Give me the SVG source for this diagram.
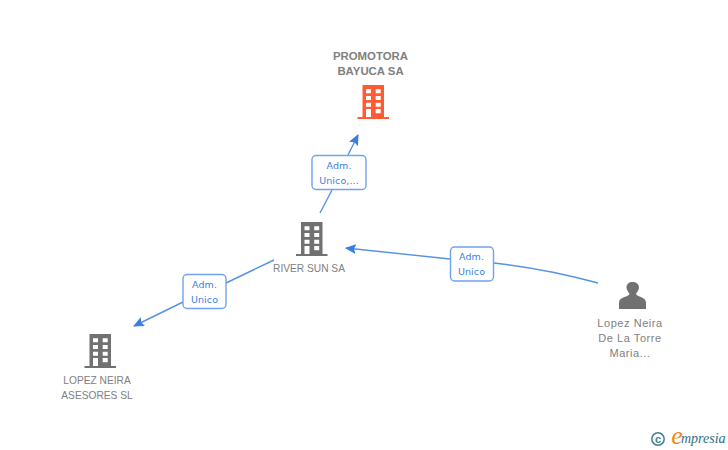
<svg xmlns="http://www.w3.org/2000/svg" width="728" height="450" viewBox="0 0 728 450">
<style>
.t{font-family:"Liberation Sans",Arial,sans-serif;font-size:10.2px;fill:#808080;text-anchor:middle}
.b{font-weight:bold;font-size:11.4px}
.m{font-size:11px;letter-spacing:.55px}
.l{font-family:"DejaVu Sans",sans-serif;font-size:9.5px;fill:#3a7fe0;text-anchor:middle;letter-spacing:.1px}
.c{fill:none;stroke:#5592e6;stroke-width:1.4}
.box{fill:#fff;stroke:#6fa3ec;stroke-width:1.4}
</style>
<defs>
<path id="bld" fill-rule="evenodd" d="M5 0H26.500V32H31.500V34H0V32H5ZM8.500 4.300V8.300H13.500V4.300ZM18.200 4.300V8.300H23.200V4.300ZM8.500 11V15H13.500V11ZM18.200 11V15H23.200V11ZM8.500 17.700V21.700H13.500V17.700ZM18.200 17.700V21.700H23.200V17.700ZM8.500 24V32H13.500V24ZM18.200 24V28.300H23.200V24Z"/>
<marker id="a" markerWidth="12" markerHeight="10" refX="10" refY="5" orient="auto" markerUnits="userSpaceOnUse"><path d="M0 0L11 5L0 10L2 5Z" fill="#3a7fe0"/></marker>
</defs>
<rect width="728" height="450" fill="#fff"/>
<g id="connectors">
<path class="c" d="M348 155L358 135" marker-end="url(#a)"/>
<path class="c" d="M320 213L332 190"/>
<path class="c" d="M274 260L226 283"/>
<path class="c" d="M183 302L134 326" marker-end="url(#a)"/>
<path class="c" d="M450 259L346 248" marker-end="url(#a)"/>
<path class="c" d="M494 263C530 267 565 274 598 283"/>
<g>
<rect class="box" x="312" y="155.500" width="54" height="34" rx="4"/>
<text class="l" x="339" y="169">Adm.</text><text class="l" x="339" y="184">Unico,...</text>
</g>
<g>
<rect class="box" x="183" y="274.500" width="43" height="34" rx="4"/>
<text class="l" x="204.500" y="288">Adm.</text><text class="l" x="204.500" y="303">Unico</text>
</g>
<g>
<rect class="box" x="450.500" y="247" width="43" height="34" rx="4"/>
<text class="l" x="471.500" y="260">Adm.</text><text class="l" x="471.500" y="275">Unico</text>
</g>
</g>
<g id="promotora">
<use href="#bld" x="357.500" y="85" fill="#ff5c33"/>
<text class="t b" x="370.500" y="59.500">PROMOTORA</text>
<text class="t b" x="370.500" y="74.500">BAYUCA SA</text>
</g>
<g id="riversun">
<use href="#bld" x="296" y="222" fill="#717171"/>
<text class="t" x="309" y="272">RIVER SUN SA</text>
</g>
<g id="lopezneira">
<use href="#bld" x="84.500" y="334" fill="#717171"/>
<text class="t" x="97" y="384">LOPEZ NEIRA</text>
<text class="t" x="97" y="399">ASESORES SL</text>
</g>
<g id="person">
<path fill="#717171" d="M619 309V303C619 299 622 298 626 296.500C628.500 295.500 629.500 294.500 629.500 293.500C627.500 291.500 626.500 289 626.500 287.500C626.500 284 629 282 632.500 282C636 282 639 284 639 287.500C639 289 638 291.500 636 293.500C636 294.500 637 295.500 639.500 296.500C643 298 646 299 646 303V309Z"/>
<text class="t m" x="630" y="327">Lopez Neira</text>
<text class="t m" x="630" y="342">De La Torre</text>
<text class="t m" x="630" y="357">Maria...</text>
</g>
<g id="logo">
<circle cx="658" cy="439" r="6.200" fill="none" stroke="#3f7f93" stroke-width="1.500"/>
<text x="658" y="442.500" font-family="Liberation Sans,sans-serif" font-size="11" font-weight="bold" fill="#3f7f93" text-anchor="middle">c</text>
<text x="677" y="444" font-family="Liberation Serif,serif" font-style="italic" font-size="26" fill="#f08a1d" text-anchor="middle">e</text>
<text x="681" y="443" font-family="Liberation Serif,serif" font-style="italic" font-size="14" fill="#2f6f86">mpresia</text>
</g>
</svg>
